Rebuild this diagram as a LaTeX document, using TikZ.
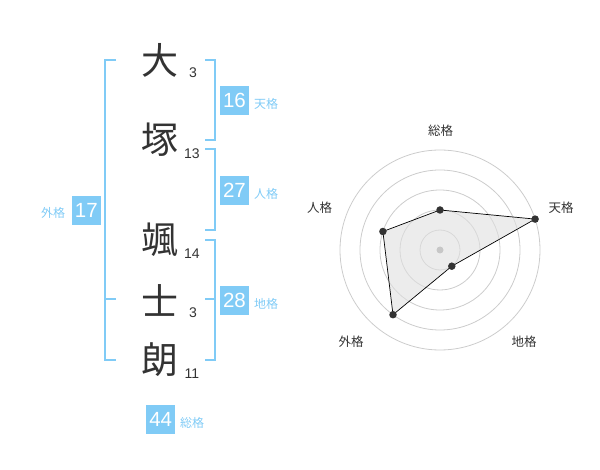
\documentclass[tikz,border=0pt]{standalone}
\usepackage{fontspec}
\setmainfont{Liberation Sans}
\newfontfamily\jp{Noto Sans CJK JP}
\definecolor{lb}{HTML}{80CBF6}
\definecolor{dk}{HTML}{333333}
\definecolor{ring}{HTML}{CCCCCC}
\begin{document}
\begin{tikzpicture}[x=1pt,y=-1pt,
  kanji/.style={text=dk,font=\jp\fontsize{37}{40}\selectfont,inner sep=0pt},
  strokes/.style={text=dk,font=\fontsize{14}{16}\selectfont,inner sep=0pt},
  numbox/.style={fill=lb,text=white,minimum size=29pt,inner sep=0pt,font=\fontsize{20.5}{23}\selectfont},
  kaku/.style={text=lb,font=\jp\fontsize{12}{14}\selectfont,inner sep=0pt},
  bracket/.style={draw=lb,line width=1.8pt},
  axislabel/.style={text=dk,font=\jp\fontsize{12.5}{14}\selectfont,inner sep=0pt},
  ringline/.style={draw=ring,line width=0.8pt},
  dot/.style={circle,fill=dk,minimum size=7.5pt,inner sep=0pt}]
\useasboundingbox (0,0) rectangle (600,470);
% characters
\node[kanji] (k1) at (160,60) {大};
\node[kanji] (k2) at (160,140) {塚};
\node[kanji] (k3) at (160,240) {颯};
\node[kanji] (k4) at (160,300) {士};
\node[kanji] (k5) at (160,360) {朗};
\node[strokes] (s1) at (193,73) {3};
\node[strokes] (s2) at (192,153.5) {13};
\node[strokes] (s3) at (192,253.5) {14};
\node[strokes] (s4) at (193,313) {3};
\node[strokes] (s5) at (192,373.5) {11};
% brackets
\draw[bracket] (116,60) -| (105,360) -- (116,360);
\draw[bracket] (105,299) -- (116,299);
\draw[bracket] (205,60) -| (215,140) -- (205,140);
\draw[bracket] (205,149) -| (215,230) -- (205,230);
\draw[bracket] (205,240) -| (215,360) -- (205,360);
\draw[bracket] (205,299) -- (215,299);
% boxes
\node[numbox] (b1) at (234.5,100.5) {16};
\node[kaku] (l1) at (266,104) {天格};
\node[numbox] (b2) at (234.5,190.5) {27};
\node[kaku] (l2) at (266,194) {人格};
\node[numbox] (b3) at (86.3,210.5) {17};
\node[kaku] (l3) at (53,213) {外格};
\node[numbox] (b4) at (234.5,300.5) {28};
\node[kaku] (l4) at (266,304) {地格};
\node[numbox] (b5) at (160.7,419.5) {44};
\node[kaku] (l5) at (192,423) {総格};
% radar
\coordinate (c) at (440,250);
\foreach \r in {20,40,60,80,100} \draw[ringline] (c) circle[radius=\r];
\coordinate (q1) at (440,210);
\coordinate (q2) at (535.1,219.1);
\coordinate (q3) at (451.8,266.2);
\coordinate (q4) at (393.0,314.7);
\coordinate (q5) at (382.9,231.5);
\fill[black!12,fill opacity=0.6] (q1) -- (q2) -- (q3) -- (q4) -- (q5) -- cycle;
\draw[black,line width=0.7pt] (q1) -- (q2) -- (q3) -- (q4) -- (q5) -- cycle;
\node[circle,fill=black!22,minimum size=7pt,inner sep=0pt] (cd) at (c) {};
\foreach \i in {1,...,5} \node[dot] (p\i) at (q\i) {};
\node[axislabel] (a1) at (440.5,130.5) {総格};
\node[axislabel] (a2) at (561,208) {天格};
\node[axislabel] (a3) at (524,342) {地格};
\node[axislabel] (a4) at (351,342) {外格};
\node[axislabel] (a5) at (319.5,208) {人格};
\end{tikzpicture}
\end{document}
